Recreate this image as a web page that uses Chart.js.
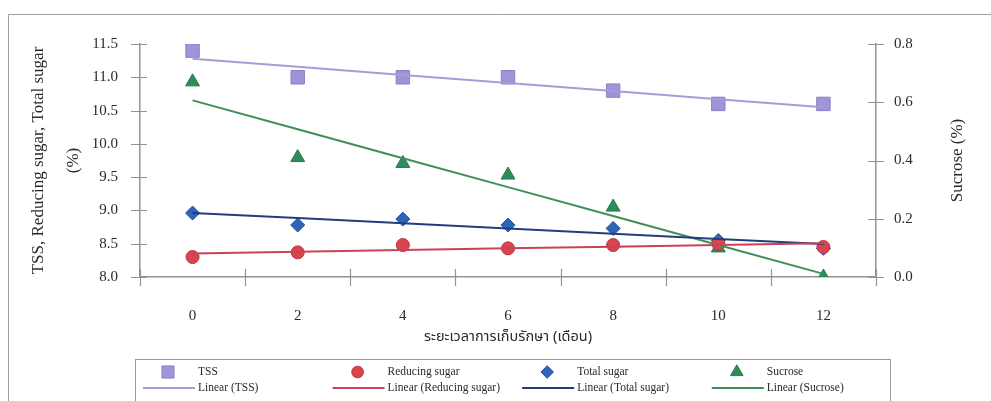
<!DOCTYPE html>
<html>
<head>
<meta charset="utf-8">
<script src="https://cdn.jsdelivr.net/npm/chart.js@4.4.1/dist/chart.umd.min.js"></script>
<style>
  html, body { margin: 0; padding: 0; background: #fff; }
  #wrap { width: 991px; height: 401px; position: relative; }
</style>
</head>
<body>
<div id="wrap"><canvas id="c"></canvas></div>
<script>
// Storage time (months)
const months = ['0', '2', '4', '6', '8', '10', '12'];
const monthValues = [0, 2, 4, 6, 8, 10, 12];

// Measured values
const tss = [11.4, 11.0, 11.0, 11.0, 10.8, 10.6, 10.6];
const reducingSugar = [8.30, 8.37, 8.48, 8.43, 8.48, 8.50, 8.45];
const totalSugar = [8.96, 8.78, 8.87, 8.78, 8.73, 8.55, 8.43];
const sucrose = [0.67, 0.41, 0.39, 0.35, 0.24, 0.10, 0.00];

// Axis ranges
const leftMin = 8.0, leftMax = 11.5, leftStep = 0.5;
const rightMin = 0.0, rightMax = 0.8, rightStep = 0.2;

const leftTitle = ['TSS, Reducing sugar, Total sugar', '(%)'];
const rightTitle = 'Sucrose (%)';
const xTitle = 'ระยะเวลาการเก็บรักษา (เดือน)';

// Least-squares straight line through a series (Excel "Linear" trendline)
function linearFit(xs, ys) {
  const n = xs.length;
  const mx = xs.reduce((a, b) => a + b, 0) / n;
  const my = ys.reduce((a, b) => a + b, 0) / n;
  let sxy = 0, sxx = 0;
  for (let i = 0; i < n; i++) {
    sxy += (xs[i] - mx) * (ys[i] - my);
    sxx += (xs[i] - mx) * (xs[i] - mx);
  }
  const slope = sxy / sxx;
  const intercept = my - slope * mx;
  return xs.map(x => intercept + slope * x);
}

const SERIF = "'Liberation Serif', 'Times New Roman', serif";
const THAI = "'Noto Sans Thai', 'Tahoma', 'DejaVu Sans', 'Noto Sans', sans-serif";
const AXIS_COLOR = '#949494';
const TEXT_COLOR = '#2a2a2a';

const series = [
  { label: 'TSS', data: tss, axis: 'y', point: 'rect', radius: 9.5,
    fill: '#9d95d8', edge: '#8a80c8', trend: '#a49ed6' },
  { label: 'Reducing sugar', data: reducingSugar, axis: 'y', point: 'circle', radius: 6.5,
    fill: '#d8454f', edge: '#c03540', trend: '#c9425a' },
  { label: 'Total sugar', data: totalSugar, axis: 'y', point: 'rectRot', radius: 7,
    fill: '#2f65b8', edge: '#24509a', trend: '#223c7c' },
  { label: 'Sucrose', data: sucrose, axis: 'y1', point: 'triangle', radius: 8,
    fill: '#2f8c5a', edge: '#267a4c', trend: '#3f8f58' }
];

const datasets = [];
series.forEach(s => {
  datasets.push({
    label: s.label,
    data: s.data,
    yAxisID: s.axis,
    showLine: false,
    pointStyle: s.point,
    pointRadius: s.radius,
    pointBackgroundColor: s.fill,
    pointBorderColor: s.edge,
    pointBorderWidth: 1,
    order: 2
  });
  datasets.push({
    label: 'Linear (' + s.label + ')',
    data: linearFit(monthValues, s.data),
    yAxisID: s.axis,
    borderColor: s.trend,
    borderWidth: 2,
    pointRadius: 0,
    fill: false,
    order: 1
  });
});

// Frame around the chart
const framePlugin = {
  id: 'frame',
  beforeDraw(chart) {
    const ctx = chart.ctx;
    ctx.save();
    ctx.fillStyle = '#fff';
    ctx.fillRect(0, 0, chart.width, chart.height);
    ctx.strokeStyle = '#a0a0a0';
    ctx.lineWidth = 1;
    ctx.beginPath();
    ctx.moveTo(8.5, chart.height);
    ctx.lineTo(8.5, 14.5);
    ctx.lineTo(chart.width, 14.5);
    ctx.stroke();
    ctx.restore();
  }
};

// Tick marks that cross the axis lines, plus the right-hand axis title read bottom to top
const axisDecorPlugin = {
  id: 'axisDecor',
  beforeDatasetsDraw(chart) {
    const ctx = chart.ctx;
    const { x, y, y1 } = chart.scales;
    ctx.save();
    ctx.strokeStyle = AXIS_COLOR;
    ctx.lineWidth = 1.2;
    ctx.beginPath();
    y.ticks.forEach(t => {
      const py = Math.round(y.getPixelForValue(t.value)) + 0.5;
      ctx.moveTo(y.right - 9, py); ctx.lineTo(y.right + 7, py);
    });
    y1.ticks.forEach(t => {
      const py = Math.round(y1.getPixelForValue(t.value)) + 0.5;
      ctx.moveTo(y1.left - 8, py); ctx.lineTo(y1.left + 8, py);
    });
    for (let i = 0; i <= months.length; i++) {
      const px = Math.round(x.getPixelForValue(i - 0.5)) + 0.5;
      ctx.moveTo(px, x.top - 8); ctx.lineTo(px, x.top + 9);
    }
    ctx.stroke();

    ctx.translate(958, (y1.top + y1.bottom) / 2);
    ctx.rotate(-Math.PI / 2);
    ctx.fillStyle = TEXT_COLOR;
    ctx.font = '17px ' + SERIF;
    ctx.textAlign = 'center';
    ctx.textBaseline = 'middle';
    ctx.fillText(rightTitle, 0, 0);
    ctx.restore();
  }
};

// Two-row legend: marker above trendline swatch, with both labels
const legendPlugin = {
  id: 'pairLegend',
  afterDraw(chart) {
    const ctx = chart.ctx;
    ctx.save();
    ctx.strokeStyle = '#9a9a9a';
    ctx.lineWidth = 1;
    ctx.strokeRect(135.5, 359.5, 755, 50);
    const rowTop = 372, rowBottom = 388;
    series.forEach((s, i) => {
      const base = 143 + i * 189.6;
      ctx.fillStyle = s.fill;
      ctx.strokeStyle = s.edge;
      ctx.lineWidth = 1;
      Chart.helpers.drawPoint(ctx, { pointStyle: s.point, radius: s.radius * 0.9, rotation: 0, borderWidth: 1 }, base + 25, rowTop);
      ctx.strokeStyle = s.trend;
      ctx.lineWidth = 2;
      ctx.beginPath();
      ctx.moveTo(base, rowBottom); ctx.lineTo(base + 52, rowBottom);
      ctx.stroke();
      ctx.fillStyle = TEXT_COLOR;
      ctx.font = '11.5px ' + SERIF;
      ctx.textBaseline = 'middle';
      ctx.textAlign = 'left';
      ctx.fillText(s.label, base + 55, rowTop);
      ctx.fillText('Linear (' + s.label + ')', base + 55, rowBottom);
    });
    ctx.restore();
  }
};

new Chart(document.getElementById('c'), {
  type: 'line',
  data: { labels: months, datasets },
  options: {
    responsive: true,
    maintainAspectRatio: false,
    animation: false,
    devicePixelRatio: 1,
    layout: { padding: { left: 8, right: 0, top: 44, bottom: 54 } },
    plugins: { legend: { display: false }, tooltip: { enabled: false } },
    scales: {
      x: {
        type: 'category',
        offset: true,
        grid: { display: false, drawTicks: false },
        border: { display: true, color: AXIS_COLOR, width: 1.5 },
        ticks: { font: { family: SERIF, size: 15 }, color: TEXT_COLOR, padding: 30, maxRotation: 0 },
        title: { display: true, text: xTitle, font: { family: THAI, size: 14.5 }, color: TEXT_COLOR, padding: 0 },
        afterFit(scale) { scale.height = 70; }
      },
      y: {
        position: 'left',
        min: leftMin, max: leftMax,
        grid: { display: false, drawTicks: false },
        border: { display: true, color: AXIS_COLOR, width: 1.5 },
        ticks: { stepSize: leftStep, font: { family: SERIF, size: 15 }, color: TEXT_COLOR, padding: 22,
                 callback: v => v.toFixed(1) },
        title: { display: true, text: leftTitle, font: { family: SERIF, size: 17, lineHeight: 35 / 17 },
                 color: TEXT_COLOR, padding: { top: 13, bottom: 0 } },
        afterFit(scale) { scale.width = 132; }
      },
      y1: {
        position: 'right',
        min: rightMin, max: rightMax,
        grid: { display: false, drawTicks: false },
        border: { display: true, color: AXIS_COLOR, width: 1.5 },
        ticks: { stepSize: rightStep, font: { family: SERIF, size: 15 }, color: TEXT_COLOR, padding: 18,
                 callback: v => v.toFixed(1) },
        title: { display: false },
        afterFit(scale) { scale.width = 115; }
      }
    }
  },
  plugins: [framePlugin, axisDecorPlugin, legendPlugin]
});
</script>
</body>
</html>
